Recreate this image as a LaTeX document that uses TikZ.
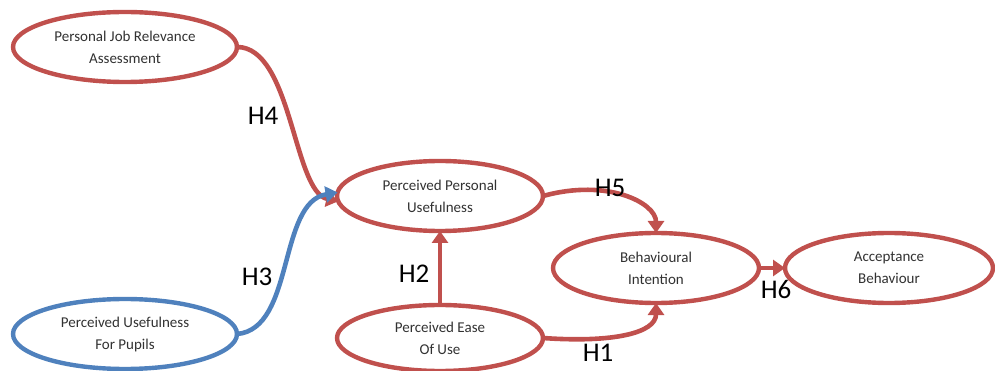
\documentclass[tikz,border=0pt]{standalone}
\usepackage{fontspec}
\setmainfont{Carlito}
\usetikzlibrary{arrows.meta,shapes.geometric}
\definecolor{cred}{RGB}{192,80,77}
\definecolor{cblue}{RGB}{79,129,189}
\definecolor{ctext}{RGB}{50,50,50}
\begin{document}
\begin{tikzpicture}[x=1pt,y=-1pt,
  construct/.style={ellipse,draw=cred,line width=4.4pt,fill=white,
    minimum width=#1,minimum height=70pt,inner sep=0pt,outer sep=0pt,
    align=center,text=ctext,font=\fontsize{15}{22}\selectfont},
  construct/.default=206pt,
  link/.style={draw=cred,line width=4.6pt,
    -{Triangle[length=12pt,width=16pt]}},
  hyp/.style={font=\fontsize{27}{29}\selectfont,text=black,inner sep=0pt}]
\useasboundingbox (0,0) rectangle (995,371);

% constructs
\node[construct=224pt] (pjr)  at (125,47)  {Personal Job Relevance\\Assessment};
\node[construct=224pt,draw=cblue] (pup) at (125,334) {Perceived Usefulness\\For Pupils};
\node[construct] (ppu)  at (440,196) {Perceived Personal\\Usefulness};
\node[construct,minimum height=66pt] (peou) at (440,338) {Perceived Ease\\Of Use};
\node[construct] (bi)   at (656,268) {Behavioural\\Intention};
\node[construct=208pt] (ab) at (889,268) {Acceptance\\Behaviour};

% hypotheses
\draw[link] (pjr.east) .. controls +(55,0) and +(-45,-10) .. (ppu.183);
\draw[link,draw=cblue] (pup.east) .. controls +(58,-5) and +(-60,10) .. (ppu.178);
\draw[link] (peou.north) -- (ppu.south);
\draw[link] (ppu.east) .. controls +(65,-18) and +(0,-30) .. (bi.north);
\draw[link] (peou.east) .. controls +(70,5) and +(0,30) .. (bi.south);
\draw[link] (bi.east) -- (ab.west);

% labels
\node[hyp] (h4) at (263,116) {H4};
\node[hyp] (h3) at (257,277) {H3};
\node[hyp] (h2) at (414,274) {H2};
\node[hyp] (h5) at (610,188) {H5};
\node[hyp] (h1) at (598,353) {H1};
\node[hyp] (h6) at (776,289) {H6};
\end{tikzpicture}
\end{document}
